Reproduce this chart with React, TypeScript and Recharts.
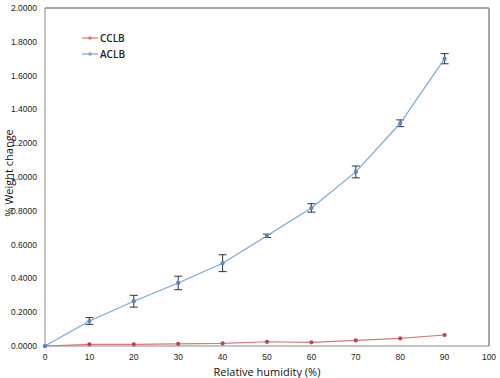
import { ComposedChart, Line, XAxis, YAxis, ErrorBar, ReferenceLine } from "recharts";

const humidity = [0, 10, 20, 30, 40, 50, 60, 70, 80, 90];
const cclb = [0, 0.01, 0.01, 0.013, 0.015, 0.025, 0.022, 0.033, 0.045, 0.065];
const aclb = [0, 0.148, 0.265, 0.373, 0.49, 0.652, 0.817, 1.03, 1.318, 1.7];
const aclbErr = [0, 0.02, 0.035, 0.04, 0.05, 0.01, 0.025, 0.035, 0.02, 0.03];
const xTicks = [0, 10, 20, 30, 40, 50, 60, 70, 80, 90, 100];
const yTicks = [0, 0.2, 0.4, 0.6, 0.8, 1.0, 1.2, 1.4, 1.6, 1.8, 2.0];

const RED = "#d9787a";
const BLUE = "#7ca6d8";
const AXIS = "#8a8a8a";
const FONT = "Open Sans, sans-serif";
const TICK_FONT = "Liberation Sans, Arial, sans-serif";

const data = humidity.map((h, i) => ({ h, cclb: cclb[i], aclb: aclb[i], err: aclbErr[i] }));

function LegendBox() {
  const items = [
    { name: "CCLB", color: RED },
    { name: "ACLB", color: BLUE },
  ];
  return (
    <div style={{ position: "absolute", left: 82, top: 30, fontFamily: FONT, fontSize: 10, fontWeight: 600, color: "#222" }}>
      {items.map((it) => (
        <div key={it.name} style={{ display: "flex", alignItems: "center", height: 16 }}>
          <svg width={16} height={8} style={{ marginRight: 2 }}>
            <line x1={0} y1={4} x2={16} y2={4} stroke={it.color} strokeWidth={1.2} />
            <circle cx={8} cy={4} r={1.8} fill={it.color} />
          </svg>
          {it.name}
        </div>
      ))}
    </div>
  );
}

function YLabel(props: any) {
  const vb = props.viewBox || { y: 8, height: 338 };
  const cx = 8;
  const cy = vb.y + vb.height / 2 - 4;
  return (
    <text
      x={cx}
      y={cy}
      transform={`rotate(-90 ${cx} ${cy})`}
      textAnchor="middle"
      dominantBaseline="central"
      fill="#111"
      fontSize={11}
      fontFamily={FONT}
    >
      % Weight change
    </text>
  );
}

export default function App() {
  return (
    <div style={{ position: "absolute", left: 0, top: 0, width: 500, height: 378, background: "#fff" }}>
      <ComposedChart width={500} height={378} data={data} margin={{ top: 8, right: 11, left: 0, bottom: 0 }}>
        <XAxis
          dataKey="h"
          type="number"
          domain={[0, 100]}
          ticks={xTicks}
          stroke={AXIS}
          tickLine={false}
          tick={{ fill: "#222", fontSize: 8.5, fontFamily: TICK_FONT }}
          height={32}
          label={{ value: "Relative humidity (%)", position: "insideBottom", offset: 2, fill: "#111", fontSize: 11, fontFamily: FONT }}
        />
        <YAxis
          type="number"
          domain={[0, 2]}
          ticks={yTicks}
          stroke={AXIS}
          tickLine={false}
          width={45}
          tickMargin={2}
          tickFormatter={(v: number) => v.toFixed(4)}
          tick={{ fill: "#222", fontSize: 8.5, fontFamily: TICK_FONT }}
          label={<YLabel />}
        />
        <ReferenceLine y={2} stroke={AXIS} strokeWidth={1.5} />
        <ReferenceLine x={100} stroke={AXIS} strokeWidth={1.5} />
        <Line
          type="linear"
          dataKey="cclb"
          name="CCLB"
          stroke={RED}
          strokeWidth={1.2}
          dot={{ r: 1.5, fill: "#b5484b", stroke: "#b5484b" }}
          isAnimationActive={false}
        />
        <Line
          type="linear"
          dataKey="aclb"
          name="ACLB"
          stroke={BLUE}
          strokeWidth={1.2}
          dot={{ r: 1.5, fill: "#5a86c0", stroke: "#5a86c0" }}
          isAnimationActive={false}
        >
          <ErrorBar dataKey="err" direction="y" width={4} stroke="#333" strokeWidth={1} />
        </Line>
      </ComposedChart>
      <LegendBox />
    </div>
  );
}
